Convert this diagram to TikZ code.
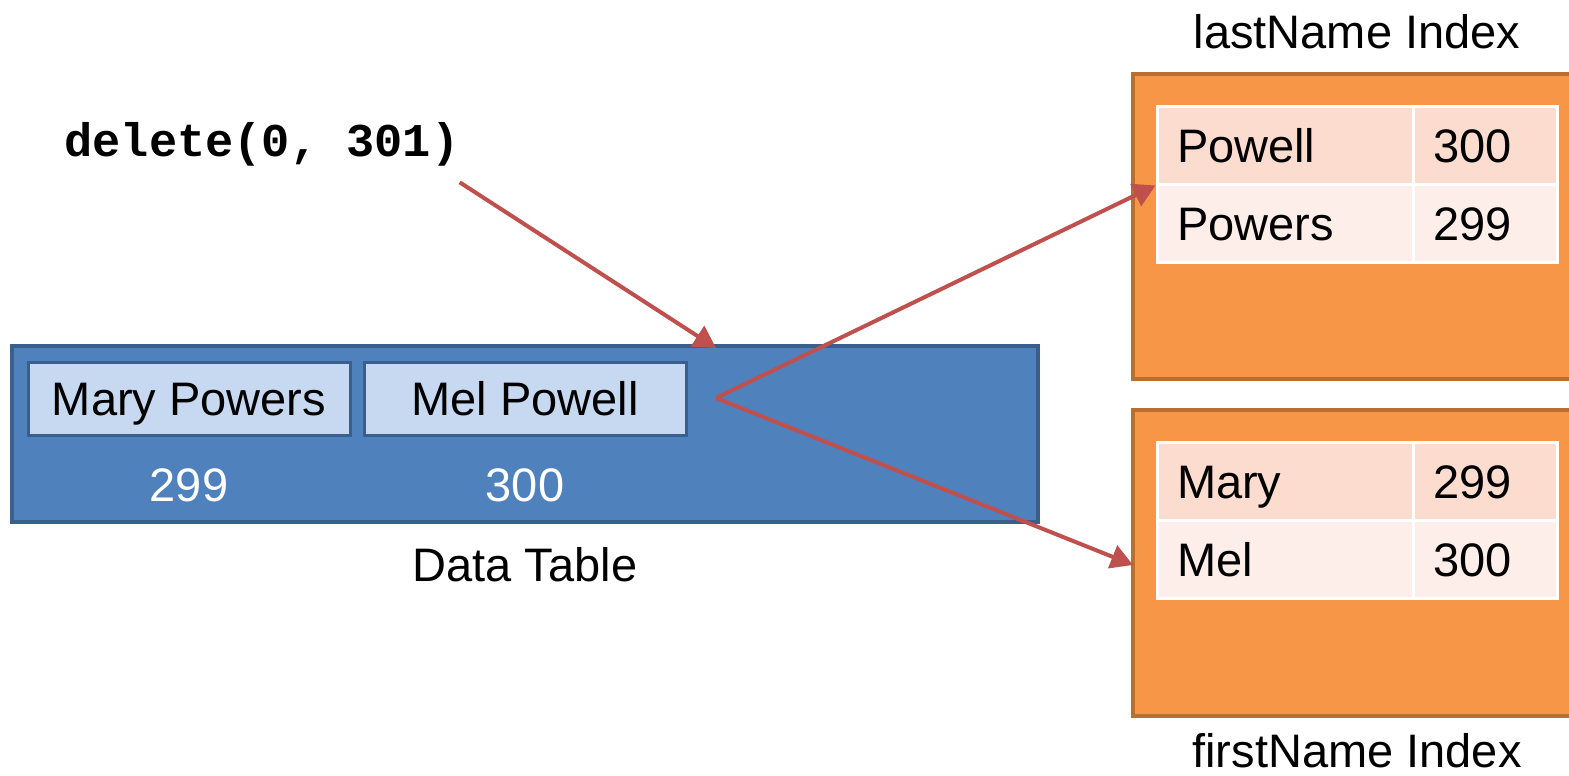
\documentclass[tikz,border=0pt]{standalone}
\usepackage{fontspec}
\setmainfont{Liberation Sans}
\setmonofont{Liberation Mono}
\usepackage{tikz}
\usetikzlibrary{arrows.meta,calc}
\definecolor{tblfill}{HTML}{4F81BD}
\definecolor{tblline}{HTML}{3A5F8D}
\definecolor{recfill}{HTML}{C6D9F1}
\definecolor{idxfill}{HTML}{F79646}
\definecolor{idxline}{HTML}{B7702F}
\definecolor{rowa}{HTML}{FCDCCE}
\definecolor{rowb}{HTML}{FDEEE9}
\definecolor{ptrcol}{HTML}{C0504D}

\begin{document}
\begin{tikzpicture}[x=0.5pt,y=-0.5pt,
  font=\fontsize{23.5}{28}\selectfont,
  datatable/.style={draw=tblline,fill=tblfill,line width=2pt,minimum width=513pt,minimum height=88pt,inner sep=0pt},
  record/.style={draw=tblline,fill=recfill,line width=1.5pt,minimum width=161pt,minimum height=36.5pt,inner sep=0pt,text height=17pt,text depth=0pt},
  idxbox/.style={draw=idxline,fill=idxfill,line width=2pt},
  keycell/.style={draw=white,line width=1.5pt,minimum height=39pt,inner xsep=10pt,text width=108pt,align=left,text height=17pt,text depth=0pt},
  ridcell/.style={draw=white,line width=1.5pt,minimum height=39pt,inner xsep=10pt,text width=52pt,align=left,text height=17pt,text depth=0pt},
  ptr/.style={draw=ptrcol,line width=2pt,-{Triangle[length=11pt,width=12pt]}}]
\clip (0,0) rectangle (1569,776);

% data table
\node[datatable] (table) at (525,434) {};
\node[record] (mary) at (189,398.5) {Mary Powers};
\node[record] (mel) at (525,398.5) {Mel Powell};
\node[text=white] (rid299) at (189,485) {299};
\node[text=white] (rid300) at (525,485) {300};
\node (tblname) at (525,565) {Data Table};

% the call
\node[font=\fontsize{23.5}{28}\selectfont\ttfamily\bfseries,anchor=west,inner sep=0pt] (call) at (64,144) {delete(0, 301)};

% lastName index
\draw[idxbox] (1133,74) rectangle (1590,379);
\node (lastname) at (1357,32) {lastName Index};
\node[keycell,fill=rowa] (powell) at (1285,145) {Powell};
\node[ridcell,fill=rowa] (powellrid) at (1485,145) {300};
\node[keycell,fill=rowb] (powers) at (1285,223) {Powers};
\node[ridcell,fill=rowb] (powersrid) at (1485,223) {299};

% firstName index
\draw[idxbox] (1133,410) rectangle (1590,716);
\node[inner sep=0pt] (firstname) at (1357,751) {firstName Index};
\node[keycell,fill=rowa] (maryk) at (1285,481) {Mary};
\node[ridcell,fill=rowa] (maryrid) at (1485,481) {299};
\node[keycell,fill=rowb] (melk) at (1285,559) {Mel};
\node[ridcell,fill=rowb] (melrid) at (1485,559) {300};

% pointers
\coordinate (hit) at (716,398);
\coordinate (idxin) at (1133,565);
\draw[ptr] (call.south east) ++(0,16) -- (716,348);
\draw[ptr] (hit) -- (powell.south west);
\draw[ptr] (hit) -- (idxin);
\end{tikzpicture}
\end{document}
